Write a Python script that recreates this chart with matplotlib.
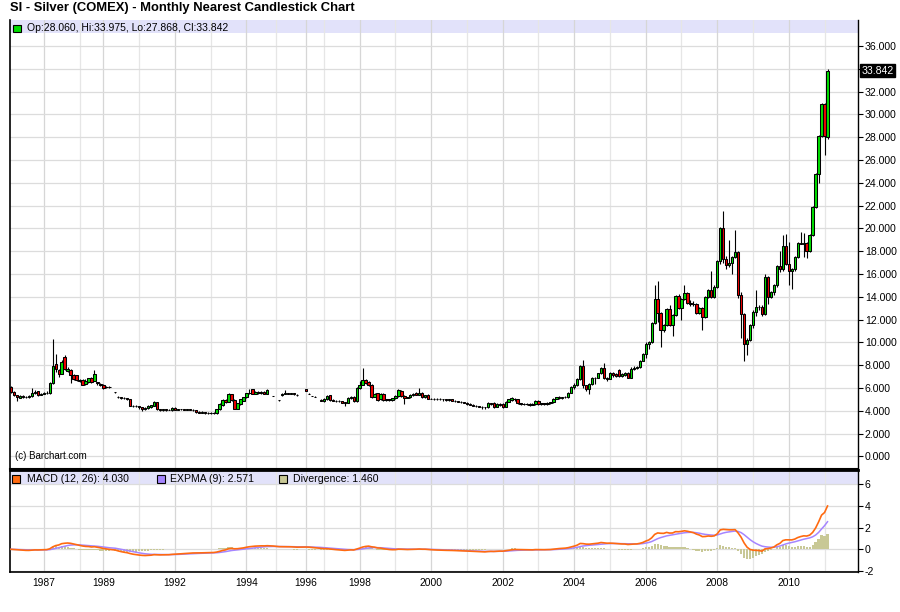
import numpy as np
import pandas as pd
import matplotlib
matplotlib.use('Agg')
import matplotlib.pyplot as plt
from matplotlib.patches import Rectangle

plt.rcParams['font.family'] = ['Liberation Sans', 'DejaVu Sans']
plt.rcParams['axes.unicode_minus'] = False

# ---------------- data (monthly bars, index-based axis; None = missing bar) ----------------
opens = [
    6.05, 5.65, 5.38, 5.15, 5.30, 5.20, 5.25, 5.30, 5.60, 5.70,
    5.40, 5.50, 5.55, 5.55, 6.40, 8.10, 7.55, 7.25, 8.70, 7.45,
    7.60, 7.15, 7.10, 6.70, 6.70, 6.35, 6.50, 6.85, 6.60, 6.50,
    6.35, 6.30, 6.05, 6.10, None, 5.62, 5.25, 5.20, 5.15, 5.10,
    5.00, 4.45, 4.40, 4.40, 4.30, 4.20, 4.25, 4.35, 4.45, 4.75,
    4.15, 4.05, 4.15, 4.10, 4.05, 4.25, 4.10, 4.15, 4.15, 4.10,
    4.15, 4.10, 4.10, 3.90, 3.85, 3.90, 3.85, 3.80, 3.85, 3.80,
    4.15, 4.50, 4.95, 4.80, 5.45, 4.95, 4.20, 4.60, 4.90, 5.20,
    5.55, 5.90, 5.50, 5.65, 5.55, 5.65, 5.50, None, 5.30, None,
    4.92, 5.35, 5.50, 5.55, 5.50, 5.55, 5.40, None, None, 5.95,
    5.50, 5.30, 5.25, None, 4.95, 4.85, 5.00, 5.35, 4.95, 4.90,
    4.90, 4.85, 4.75, 4.70, 5.10, 5.25, 4.85, 6.00, 6.30, 6.70,
    6.50, 6.30, 5.25, 5.55, 5.00, 5.50, 4.95, 5.00, 4.95, 5.10,
    5.30, 5.75, 5.30, 5.15, 5.20, 5.35, 5.60, 5.40, 5.60, 5.20,
    5.40, 5.05, 5.05, 5.00, 5.05, 5.00, 5.00, 4.95, 5.00, 4.90,
    4.85, 4.80, 4.75, 4.70, 4.60, 4.55, 4.45, 4.40, 4.35, 4.30,
    4.30, 4.65, 4.70, 4.35, 4.60, 4.60, 4.35, 4.80, 4.95, 5.05,
    5.00, 4.65, 4.60, 4.60, 4.60, 4.55, 4.60, 4.90, 4.60, 4.65,
    4.60, 4.70, 4.75, 5.05, 5.20, 5.15, 5.20, 5.20, 5.60, 6.10,
    6.30, 6.80, 7.90, 6.25, 5.90, 6.35, 6.85, 6.90, 7.30, 7.75,
    6.90, 6.80, 7.30, 7.20, 7.55, 7.05, 7.10, 7.35, 6.90, 7.70,
    7.75, 7.80, 8.40, 9.00, 9.90, 10.00, 11.70, 13.80, 12.60, 11.10,
    11.50, 12.90, 11.50, 12.40, 14.10, 13.00, 13.80, 14.30, 13.50, 13.40,
    13.40, 12.60, 13.00, 12.20, 14.00, 14.60, 14.00, 14.90, 17.10, 20.00,
    17.30, 16.80, 17.00, 17.50, 17.90, 14.20, 12.50, 9.90, 10.20, 11.50,
    12.70, 13.10, 13.10, 12.50, 15.70, 14.00, 14.40, 15.00, 16.70, 16.40,
    18.50, 16.90, 16.30, 16.40, 17.50, 18.70, 18.60, 18.70, 18.00, 19.40,
    21.90, 24.80, 28.10, 30.90, 28.06,
]
highs = [
    6.15, 5.70, 5.40, 5.35, 5.35, 5.30, 5.40, 6.00, 5.80, 5.75,
    5.60, 5.65, 5.70, 6.50, 10.30, 9.00, 7.70, 8.50, 8.90, 7.80,
    7.70, 7.20, 7.15, 6.75, 6.75, 6.80, 6.90, 6.95, 7.55, 6.55,
    6.40, 6.35, 6.15, 6.15, None, 5.64, 5.30, 5.25, 5.20, 5.15,
    5.05, 4.55, 4.50, 4.40, 4.30, 4.35, 4.50, 4.55, 4.90, 4.80,
    4.15, 4.20, 4.20, 4.20, 4.30, 4.30, 4.20, 4.20, 4.20, 4.20,
    4.20, 4.15, 4.10, 3.95, 3.95, 3.90, 3.90, 3.90, 3.90, 4.20,
    4.65, 5.00, 5.05, 5.55, 5.50, 5.00, 4.70, 5.05, 5.25, 5.60,
    5.95, 5.95, 5.75, 5.75, 5.70, 5.70, 5.90, None, 5.32, None,
    4.94, 5.55, 5.80, 5.60, 5.60, 5.60, 5.45, None, None, 5.95,
    5.52, 5.32, 5.27, None, 5.00, 5.10, 5.35, 5.40, 5.00, 4.95,
    4.95, 4.90, 4.80, 5.20, 5.30, 5.30, 6.05, 6.60, 7.75, 6.80,
    6.60, 6.35, 5.60, 5.60, 5.55, 5.55, 5.05, 5.05, 5.15, 5.35,
    5.90, 5.80, 5.35, 5.25, 5.45, 5.55, 5.65, 6.00, 5.65, 5.40,
    5.45, 5.15, 5.10, 5.10, 5.10, 5.05, 5.05, 5.05, 5.05, 4.95,
    4.90, 4.85, 4.80, 4.75, 4.65, 4.60, 4.50, 4.45, 4.40, 4.35,
    4.75, 4.70, 4.75, 4.65, 4.65, 4.65, 4.85, 5.05, 5.20, 5.10,
    5.05, 4.70, 4.65, 4.65, 4.65, 4.65, 4.95, 4.95, 4.70, 4.70,
    4.75, 4.80, 5.10, 5.25, 5.30, 5.25, 5.30, 5.65, 6.15, 6.40,
    6.85, 8.00, 8.50, 6.30, 6.40, 6.95, 7.00, 7.35, 7.85, 8.20,
    7.00, 7.40, 7.40, 7.30, 7.65, 7.30, 7.40, 7.40, 7.80, 7.90,
    7.90, 8.45, 9.10, 10.00, 10.10, 11.75, 15.00, 15.35, 12.70, 11.60,
    13.00, 13.30, 12.50, 14.20, 14.25, 13.90, 15.00, 14.40, 13.70, 13.60,
    13.50, 13.10, 13.10, 14.10, 14.70, 16.30, 15.00, 17.20, 20.10, 21.50,
    17.60, 19.00, 17.60, 19.90, 18.00, 14.40, 12.60, 10.40, 11.60, 12.80,
    14.60, 13.30, 13.30, 16.00, 15.80, 14.50, 15.10, 16.80, 18.00, 19.40,
    19.50, 18.80, 16.50, 17.60, 18.80, 19.70, 19.60, 18.80, 19.50, 22.00,
    24.90, 28.20, 31.00, 31.00, 33.975,
]
lows = [
    5.55, 5.30, 4.90, 5.10, 5.10, 5.10, 5.15, 5.25, 5.50, 5.30,
    5.35, 5.45, 5.50, 5.50, 6.35, 7.40, 7.00, 7.20, 7.60, 7.40,
    6.40, 6.70, 6.60, 6.50, 6.25, 6.30, 6.40, 6.45, 6.60, 6.30,
    6.20, 5.95, 6.00, 6.00, None, 5.60, 5.10, 5.05, 5.00, 4.95,
    4.40, 4.30, 4.30, 4.20, 4.00, 4.10, 4.20, 4.25, 4.40, 4.10,
    3.95, 4.00, 4.00, 4.05, 4.00, 4.05, 4.05, 4.10, 4.05, 4.05,
    4.05, 4.00, 3.85, 3.80, 3.80, 3.75, 3.75, 3.75, 3.70, 3.75,
    4.10, 4.45, 4.70, 4.75, 4.90, 4.15, 4.15, 4.55, 4.85, 5.15,
    5.45, 5.45, 5.45, 5.50, 5.50, 5.45, 5.45, None, 5.28, None,
    4.90, 5.30, 5.45, 5.45, 5.45, 5.40, 5.30, None, None, 5.70,
    5.48, 5.28, 5.23, None, 4.85, 4.80, 4.95, 4.90, 4.85, 4.80,
    4.75, 4.65, 4.40, 4.65, 5.05, 4.80, 4.80, 5.95, 6.25, 6.35,
    6.20, 5.15, 5.20, 4.90, 4.95, 4.90, 4.90, 4.90, 4.90, 5.05,
    5.25, 5.25, 4.60, 5.10, 5.15, 5.30, 5.35, 5.35, 5.15, 5.15,
    5.00, 5.00, 4.95, 4.95, 4.95, 4.90, 4.90, 4.90, 4.85, 4.80,
    4.75, 4.70, 4.65, 4.55, 4.50, 4.40, 4.35, 4.30, 4.20, 4.15,
    4.25, 4.55, 4.25, 4.30, 4.45, 4.25, 4.30, 4.75, 4.90, 4.90,
    4.60, 4.55, 4.50, 4.50, 4.45, 4.50, 4.55, 4.55, 4.50, 4.50,
    4.55, 4.60, 4.70, 5.00, 5.05, 5.05, 5.10, 5.15, 5.55, 5.95,
    6.20, 6.70, 6.00, 5.75, 5.50, 6.30, 6.35, 6.85, 7.25, 6.80,
    6.60, 6.75, 7.00, 6.95, 7.00, 7.00, 7.05, 6.85, 6.85, 7.60,
    7.65, 7.75, 8.35, 8.60, 9.40, 9.95, 11.60, 11.80, 9.60, 10.90,
    11.40, 11.40, 10.60, 12.30, 12.90, 12.00, 13.70, 13.40, 13.20, 13.20,
    12.50, 12.50, 11.10, 12.10, 13.90, 13.90, 13.90, 14.80, 16.90, 17.00,
    16.40, 16.60, 16.00, 17.40, 13.90, 10.40, 8.40, 8.90, 10.10, 11.30,
    12.30, 12.80, 12.30, 12.40, 13.40, 13.90, 14.20, 14.90, 16.20, 16.30,
    16.80, 15.00, 14.70, 16.30, 17.40, 18.60, 17.50, 17.40, 17.90, 19.30,
    21.80, 24.00, 28.00, 26.40, 27.868,
]
closes = [
    5.65, 5.38, 5.20, 5.30, 5.20, 5.25, 5.30, 5.60, 5.65, 5.35,
    5.50, 5.55, 5.60, 6.40, 7.90, 7.70, 7.25, 8.30, 7.65, 7.65,
    7.15, 6.75, 6.70, 6.60, 6.30, 6.60, 6.85, 6.50, 7.20, 6.40,
    6.30, 6.00, 6.10, 6.05, None, 5.62, 5.20, 5.15, 5.10, 5.05,
    4.45, 4.40, 4.40, 4.30, 4.20, 4.25, 4.45, 4.50, 4.80, 4.15,
    4.05, 4.15, 4.10, 4.05, 4.25, 4.10, 4.15, 4.15, 4.10, 4.15,
    4.10, 4.10, 3.90, 3.85, 3.90, 3.85, 3.80, 3.85, 3.80, 4.15,
    4.60, 4.95, 4.80, 5.50, 4.95, 4.20, 4.65, 5.00, 5.20, 5.55,
    5.60, 5.50, 5.65, 5.55, 5.65, 5.50, 5.80, None, 5.30, None,
    4.92, 5.50, 5.55, 5.50, 5.55, 5.45, 5.35, None, None, 5.75,
    5.50, 5.30, 5.25, None, 4.90, 5.05, 5.30, 4.95, 4.90, 4.85,
    4.85, 4.70, 4.65, 5.15, 5.25, 4.85, 6.00, 6.30, 6.70, 6.45,
    6.30, 5.25, 5.50, 4.95, 5.50, 4.95, 5.00, 4.95, 5.10, 5.30,
    5.80, 5.30, 5.15, 5.20, 5.40, 5.50, 5.40, 5.60, 5.20, 5.35,
    5.05, 5.05, 5.00, 5.05, 5.00, 5.00, 4.95, 5.00, 4.90, 4.85,
    4.80, 4.75, 4.70, 4.60, 4.55, 4.45, 4.40, 4.35, 4.30, 4.30,
    4.70, 4.60, 4.30, 4.60, 4.55, 4.30, 4.80, 5.00, 5.10, 5.00,
    4.65, 4.60, 4.60, 4.60, 4.55, 4.60, 4.90, 4.60, 4.65, 4.60,
    4.70, 4.75, 5.05, 5.20, 5.15, 5.20, 5.20, 5.60, 6.10, 6.30,
    6.80, 7.90, 6.25, 5.95, 6.35, 6.85, 6.90, 7.30, 7.75, 6.85,
    6.80, 7.30, 7.15, 7.05, 7.05, 7.20, 7.35, 6.90, 7.70, 7.75,
    7.80, 8.40, 9.00, 9.90, 10.00, 11.70, 13.80, 12.60, 11.10, 11.50,
    12.90, 11.50, 12.40, 14.10, 13.00, 13.80, 14.30, 13.50, 13.40, 13.40,
    12.60, 13.00, 12.20, 14.00, 14.60, 14.00, 14.90, 17.10, 20.00, 17.30,
    16.80, 17.00, 17.50, 17.90, 14.20, 12.50, 9.90, 10.20, 11.50, 12.70,
    13.10, 13.10, 12.50, 15.70, 14.00, 14.40, 15.00, 16.70, 16.40, 18.50,
    16.90, 16.30, 16.40, 17.50, 18.70, 18.60, 18.70, 18.00, 19.40, 21.90,
    24.80, 28.10, 30.90, 28.10, 33.842,
]

year_tick_bars = [11, 31, 55, 79, 99, 117, 141, 165, 189, 213, 237, 261]
year_tick_labels = ['1987', '1989', '1992', '1994', '1996', '1998',
                    '2000', '2002', '2004', '2006', '2008', '2010']
minor_year_bars = [23, 43, 67, 89, 105, 129, 153, 177, 201, 225, 249, 273]

price_ticks = list(range(0, 37, 2))
macd_ticks = [-2, 0, 2, 4, 6]

title_text = 'SI - Silver (COMEX) - Monthly Nearest Candlestick Chart'
ohlc_text = 'Op:28.060, Hi:33.975, Lo:27.868, Cl:33.842'
last_price = 33.842
macd_legend = ['MACD (12, 26): 4.030', 'EXPMA (9): 2.571', 'Divergence: 1.460']

# ---------------- figure ----------------
W, H = 900, 612
fig = plt.figure(figsize=(W / 100, H / 100), dpi=100)
fig.patch.set_facecolor('white')

def fx(px):
    return px / W

def fy(py):
    return 1 - py / H

ax = fig.add_axes([fx(10), fy(469), (858 - 10) / W, (469 - 20) / H])
ax2 = fig.add_axes([fx(10), fy(572), (858 - 10) / W, (572 - 470) / H])

GRID_MAJOR = '#D6D6D6'
GRID_MINOR = '#E6E6E6'
BAND = '#E2E2FA'
GREEN = '#00DD00'
RED = '#EE0000'

xlim = ((10 - 11) / 2.98, (858 - 11) / 2.98)

# ---- main candlestick panel ----
idx = [i for i, c in enumerate(closes) if c is not None]
o = np.array([opens[i] for i in idx])
h = np.array([highs[i] for i in idx])
l = np.array([lows[i] for i in idx])
c = np.array([closes[i] for i in idx])
xi = np.array(idx)
cols = [GREEN if cc >= oo else RED for oo, cc in zip(o, c)]

ax.vlines(xi, l, h, color='black', lw=0.8, zorder=2)
ax.bar(xi, np.abs(c - o), bottom=np.minimum(o, c), width=0.78, color=cols,
       edgecolor='black', linewidth=0.75, zorder=3)

ax.set_xlim(*xlim)
ax.set_ylim((456.4 - 469) / 11.4, (456.4 - 20) / 11.4)
ax.axhspan((456.4 - 33) / 11.4, 50, color=BAND, zorder=0.2, lw=0)

ax.yaxis.tick_right()
ax.set_yticks(price_ticks)
ax.set_yticklabels(['' if abs(t - 34) < 1e-9 else f'{t:.3f}' for t in price_ticks],
                   fontsize=7.6)
ax.tick_params(axis='y', which='both', direction='out', length=3.5, width=0.8, pad=1.5)
ax.set_xticks(year_tick_bars)
ax.set_xticks(minor_year_bars, minor=True)
ax.tick_params(axis='x', which='both', length=0, labelbottom=False)
ax.grid(True, which='major', axis='x', color=GRID_MAJOR, lw=0.9)
ax.grid(True, which='minor', axis='x', color=GRID_MINOR, lw=0.9)
ax.grid(True, which='major', axis='y', color='#DCDCDC', lw=0.9)
ax.set_axisbelow(True)
ax.spines['top'].set_visible(False)
ax.spines['left'].set_linewidth(1.2)
ax.spines['right'].set_linewidth(1.0)
ax.spines['bottom'].set_linewidth(1.5)

ax.text(1.004, last_price, f'{last_price:.3f}', transform=ax.get_yaxis_transform(),
        ha='left', va='center', color='white', fontsize=7.6, zorder=10,
        bbox=dict(boxstyle='square,pad=0.12', fc='black', ec='black'), clip_on=False)

# ---- MACD panel ----
cs = pd.Series(c, index=xi)
ema12 = cs.ewm(span=12, adjust=False).mean()
ema26 = cs.ewm(span=26, adjust=False).mean()
macd = ema12 - ema26
signal = macd.ewm(span=9, adjust=False).mean()
diverg = macd - signal

ax2.bar(diverg.index, diverg.values, width=0.75, color='#C8C896', zorder=2, lw=0)
ax2.plot(signal.index, signal.values, color='#A585FF', lw=1.1, zorder=3)
ax2.plot(macd.index, macd.values, color='#FF6A10', lw=1.2, zorder=4)

ax2.set_xlim(*xlim)
ax2.set_ylim((549.3 - 572) / 10.8, (549.3 - 470) / 10.8)
ax2.axhspan((549.3 - 484.5) / 10.8, 20, color=BAND, zorder=0.2, lw=0)
ax2.yaxis.tick_right()
ax2.set_yticks(macd_ticks)
ax2.set_yticklabels([str(t) for t in macd_ticks], fontsize=7.6)
ax2.tick_params(axis='y', direction='out', length=3.5, width=0.8, pad=1.5)
ax2.set_xticks(year_tick_bars)
ax2.set_xticklabels(year_tick_labels, fontsize=7.4)
ax2.set_xticks(minor_year_bars, minor=True)
ax2.tick_params(axis='x', which='major', length=0, pad=4)
ax2.tick_params(axis='x', which='minor', length=0)
ax2.grid(True, which='major', axis='x', color=GRID_MAJOR, lw=0.9)
ax2.grid(True, which='minor', axis='x', color=GRID_MINOR, lw=0.9)
ax2.grid(True, which='major', axis='y', color='#DCDCDC', lw=0.9)
ax2.set_axisbelow(True)
ax2.spines['top'].set_linewidth(2.0)
ax2.spines['left'].set_linewidth(1.2)
ax2.spines['right'].set_linewidth(1.0)
ax2.spines['bottom'].set_linewidth(1.2)

# ---- texts ----
fig.text(fx(10), fy(8.5), title_text, fontsize=9.4, fontweight='bold', va='center', ha='left')

fig.add_artist(Rectangle((fx(13.3), fy(32)), 7.4 / W, 7.3 / H, transform=fig.transFigure,
                         fc=GREEN, ec='black', lw=0.8))
fig.text(fx(27), fy(28.3), ohlc_text, fontsize=7.5, va='center', ha='left')

fig.text(fx(15), fy(456), '(c) Barchart.com', fontsize=7.0, va='center', ha='left')

leg_cols = ['#FF6A10', '#A585FF', '#C8C896']
sq_x = [12.3, 157, 279]
tx_x = [27.3, 170, 292.7]
for col, sx, tx, lab in zip(leg_cols, sq_x, tx_x, macd_legend):
    fig.add_artist(Rectangle((fx(sx), fy(482.5)), 8 / W, 7.5 / H, transform=fig.transFigure,
                             fc=col, ec='black', lw=0.8))
    fig.text(fx(tx), fy(478.7), lab, fontsize=7.6, va='center', ha='left')

fig.savefig('out.png', dpi=100)
